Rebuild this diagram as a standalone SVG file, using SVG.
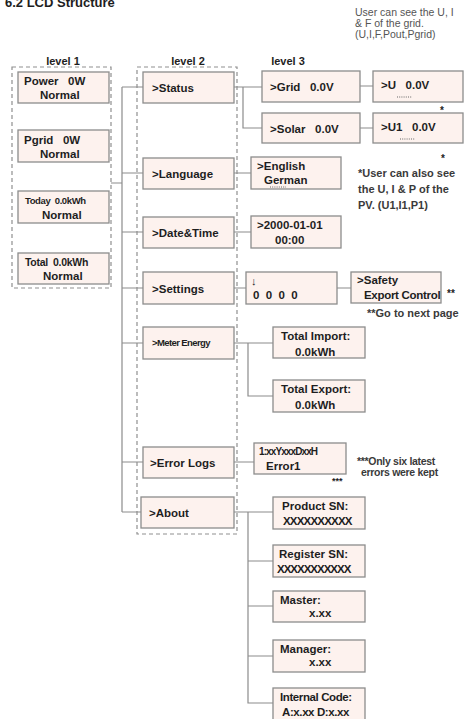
<svg xmlns="http://www.w3.org/2000/svg" width="465" height="719" viewBox="0 0 465 719">
<style>
  .bx { fill: #fdf2ee; stroke: #8c8c8c; stroke-width: 1.3; }
  .grp { fill: none; stroke: #8f8f8f; stroke-width: 1.2; stroke-dasharray: 4 3; }
  .ln { fill: none; stroke: #8c8c8c; stroke-width: 1.2; }
  .dotl { fill: none; stroke: #666; stroke-width: 1; stroke-dasharray: 1 1.2; }
  text { font-family: "Liberation Sans", Arial, sans-serif; font-weight: bold; fill: #1e1e1e; font-size: 11.5px; white-space: pre; }
  .sm { font-size: 9.5px; letter-spacing: -0.4px; }
  .note { fill: #3a3a3a; font-size: 11px; }
  .top { fill: #555; font-weight: normal; font-size: 10.5px; }
  .lvl { font-size: 11px; text-anchor: middle; }
</style>
<rect width="465" height="719" fill="#ffffff"/>
<text x="5" y="7" style="font-size:13px" fill="#333">6.2 LCD Structure</text>
<g id="top-note">
  <text class="top" x="355" y="16">User can see the U, I</text>
  <text class="top" x="355" y="27">&amp; F of the grid.</text>
  <text class="top" x="355" y="38">(U,I,F,Pout,Pgrid)</text>
</g>
<g id="labels">
  <text class="lvl" x="63" y="65">level 1</text>
  <text class="lvl" x="188" y="65">level 2</text>
  <text class="lvl" x="288" y="65">level 3</text>
</g>
<g id="groups">
  <rect class="grp" x="12" y="67" width="99" height="221"/>
  <rect class="grp" x="137" y="67" width="100" height="467"/>
</g>
<g id="connectors">
  <path class="ln" d="M111,183 H122 M122,87 V512 M122,87 H143 M122,173 H143 M122,232 H143 M122,288 H143 M122,343 H143 M122,462 H143 M122,512 H141"/>
  <path class="ln" d="M234,87 H262 M243,87 V128 H262 M360,86 H373 M360,128 H373"/>
  <path class="ln" d="M234,173 H251 M234,232 H251 M234,288 H246 M337,288 H351"/>
  <path class="ln" d="M234,343 H273 M248,343 V396 H273 M234,462 H254"/>
  <path class="ln" d="M234,512 H273 M248,512 V703 H273 M248,561 H273 M248,606 H273 M248,656 H273"/>
</g>
<g id="power"><rect class="bx" x="18" y="72" width="91" height="31"/><text x="24" y="85">Power   0W</text><text x="40" y="99">Normal</text></g>
<g id="pgrid"><rect class="bx" x="18" y="130" width="91" height="32"/><text x="24" y="144">Pgrid   0W</text><text x="40" y="158">Normal</text></g>
<g id="today"><rect class="bx" x="18" y="191" width="91" height="32"/><text class="sm" x="25" y="204">Today  0.0kWh</text><text x="42" y="219">Normal</text></g>
<g id="total"><rect class="bx" x="18" y="253" width="91" height="31"/><text x="25" y="266" style="font-size:10.5px;letter-spacing:-0.3px">Total  0.0kWh</text><text x="43" y="280">Normal</text></g>

<g id="status"><rect class="bx" x="143" y="72" width="91" height="31"/><text x="152" y="92">&gt;Status</text></g>
<g id="language"><rect class="bx" x="143" y="158" width="91" height="31"/><text x="152" y="178">&gt;Language</text></g>
<g id="datetime"><rect class="bx" x="143" y="217" width="91" height="31"/><text x="152" y="237">&gt;Date&amp;Time</text></g>
<g id="settings"><rect class="bx" x="143" y="272" width="91" height="32"/><text x="152" y="293">&gt;Settings</text></g>
<g id="meter"><rect class="bx" x="143" y="327" width="91" height="32"/><text x="152" y="346" style="font-size:9.5px;letter-spacing:-0.6px">&gt;Meter Energy</text></g>
<g id="errorlogs"><rect class="bx" x="143" y="447" width="91" height="31"/><text x="150" y="467">&gt;Error Logs</text></g>
<g id="about"><rect class="bx" x="141" y="497" width="93" height="31"/><text x="149" y="517">&gt;About</text></g>

<g id="grid"><rect class="bx" x="262" y="71" width="98" height="31"/><text x="270" y="91">&gt;Grid   0.0V</text></g>
<g id="solar"><rect class="bx" x="262" y="113" width="98" height="30"/><text x="270" y="133">&gt;Solar   0.0V</text></g>
<g id="u"><rect class="bx" x="373" y="71" width="90" height="31"/><text x="381" y="89">&gt;U   0.0V</text><path class="dotl" d="M397,97 H412"/></g>
<g id="u1"><rect class="bx" x="373" y="113" width="90" height="30"/><text x="381" y="131">&gt;U1   0.0V</text><path class="dotl" d="M400,139 H415"/></g>
<text x="440" y="114" style="font-size:10px">*</text>
<text x="441" y="162" style="font-size:10px">*</text>
<g id="pv-note">
  <text class="note" x="358" y="177">*User can also see</text>
  <text class="note" x="358" y="193">the U, I &amp; P of the</text>
  <text class="note" x="358" y="209">PV. (U1,I1,P1)</text>
</g>
<g id="lang3"><rect class="bx" x="251" y="157" width="90" height="32"/><text x="257" y="170">&gt;English</text><text x="264" y="184">German</text><path class="dotl" d="M270,187 H286"/></g>
<g id="date3"><rect class="bx" x="251" y="216" width="90" height="32"/><text x="257" y="229">&gt;2000-01-01</text><text x="275" y="244">00:00</text></g>
<g id="settings3"><rect class="bx" x="246" y="272" width="91" height="32"/><text x="251" y="285" style="font-size:11px">↓</text><text x="253" y="299">0  0  0  0</text></g>
<g id="safety"><rect class="bx" x="351" y="272" width="90" height="31"/><text x="357" y="284">&gt;Safety</text><text x="364" y="299" style="letter-spacing:-0.3px">Export Control</text></g>
<text x="447" y="297" style="font-size:10px">**</text>
<text class="note" x="367" y="317">**Go to next page</text>
<g id="import"><rect class="bx" x="273" y="327" width="92" height="31"/><text x="281" y="340">Total Import:</text><text x="295" y="356">0.0kWh</text></g>
<g id="export"><rect class="bx" x="273" y="380" width="92" height="32"/><text x="281" y="393">Total Export:</text><text x="295" y="409">0.0kWh</text></g>
<g id="error3"><rect class="bx" x="254" y="443" width="92" height="31"/><text x="259" y="455" style="font-size:10px;letter-spacing:-0.9px">1:xxYxxxDxxH</text><text x="266" y="470">Error1</text></g>
<text x="332" y="484" style="font-size:9px">***</text>
<g id="err-note">
  <text class="note" x="357" y="465" style="font-size:10.5px;letter-spacing:-0.3px">***Only six latest</text>
  <text class="note" x="361" y="476" style="font-size:10.5px;letter-spacing:-0.3px">errors were kept</text>
</g>
<g id="productsn"><rect class="bx" x="273" y="497" width="92" height="32"/><text x="282" y="510">Product SN:</text><text x="283" y="525" style="letter-spacing:-0.8px">XXXXXXXXXX</text></g>
<g id="registersn"><rect class="bx" x="273" y="545" width="92" height="32"/><text x="279" y="558">Register SN:</text><text x="277" y="573" style="letter-spacing:-1px">XXXXXXXXXXX</text></g>
<g id="master"><rect class="bx" x="273" y="591" width="92" height="31"/><text x="280" y="604">Master:</text><text x="309" y="617">x.xx</text></g>
<g id="manager"><rect class="bx" x="273" y="640" width="92" height="32"/><text x="280" y="653">Manager:</text><text x="309" y="666">x.xx</text></g>
<g id="internal"><rect class="bx" x="273" y="688" width="92" height="32"/><text x="280" y="701" style="letter-spacing:-0.4px">Internal Code:</text><text x="282" y="716" style="letter-spacing:-0.4px">A:x.xx D:x.xx</text></g>
</svg>
